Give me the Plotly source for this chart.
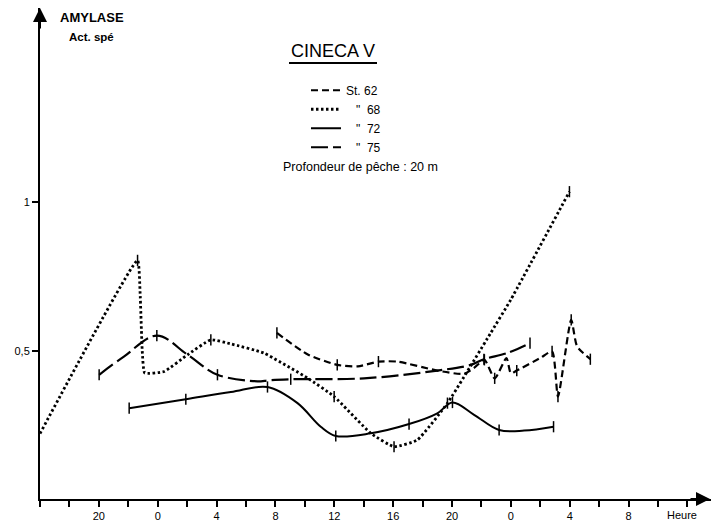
import plotly.graph_objects as go

# ---- data (time in hours from 0h of day 1; activity values) ----
t62 = [32.1, 34.2, 36.2, 37.6, 39.0, 40.3, 43.0, 44.8, 45.5, 46.2, 46.9, 47.7, 48.0, 48.4, 50.0, 50.8, 51.2, 52.1, 52.5, 53.4]
v62 = [0.562, 0.49, 0.455, 0.45, 0.466, 0.466, 0.436, 0.425, 0.445, 0.472, 0.41, 0.478, 0.427, 0.436, 0.478, 0.50, 0.349, 0.606, 0.517, 0.474]
k62 = [1, 0, 1, 0, 1, 0, 0, 0, 0, 1, 1, 0, 0, 1, 0, 1, 1, 1, 0, 1]

t68 = [16.0, 22.63, 22.8, 22.95, 23.12, 24.44, 26.03, 27.61, 29.0, 31.2, 34.18, 35.99, 38.48, 40.06, 41.65, 43.69, 46.63, 47.99, 51.98]
v68 = [0.225, 0.805, 0.70, 0.50, 0.428, 0.433, 0.489, 0.539, 0.525, 0.495, 0.411, 0.349, 0.226, 0.181, 0.204, 0.327, 0.562, 0.673, 1.035]
k68 = [0, 1, 0, 0, 0, 0, 0, 1, 0, 0, 0, 1, 0, 1, 0, 1, 0, 0, 1]

t72 = [22.06, 25.91, 28.97, 31.46, 33.5, 35.08, 36.1, 38.48, 41.08, 43.0, 44.03, 45.5, 47.2, 48.9, 50.9]
v72 = [0.31, 0.340, 0.364, 0.381, 0.327, 0.248, 0.217, 0.226, 0.257, 0.293, 0.329, 0.288, 0.237, 0.235, 0.248]
k72 = [1, 1, 0, 1, 0, 0, 1, 0, 1, 0, 1, 0, 1, 0, 1]

t75 = [20.02, 21.7, 23.94, 26.03, 28.06, 31.0, 31.46, 33.04, 38.02, 43.0, 45.27, 46.17, 47.76, 49.3]
v75 = [0.422, 0.483, 0.553, 0.489, 0.422, 0.40, 0.403, 0.407, 0.41, 0.436, 0.455, 0.474, 0.495, 0.528]
k75 = [1, 0, 1, 0, 1, 0, 0, 1, 0, 0, 0, 1, 0, 1]

x_tickvals = [20, 24, 28, 32, 36, 40, 44, 48, 52, 56]
x_ticktext = ["20", "0", "4", "8", "12", "16", "20", "0", "4", "8"]
y_tickvals = [0.5, 1.0]
y_ticktext = ["0,5", "1"]

names = ["St. 62", "\u00a0\u00a0\u00a0\"\u00a0\u00a068", "\u00a0\u00a0\u00a0\"\u00a0\u00a072", "\u00a0\u00a0\u00a0\"\u00a0\u00a075"]

FONT = "Liberation Sans, Arial, sans-serif"
series = [
    (t62, v62, k62, dict(color="black", width=2.2, dash="7px,4px"), 0.6),
    (t68, v68, k68, dict(color="black", width=2.8, dash="2.5px,2.5px"), 0.4),
    (t72, v72, k72, dict(color="black", width=2.0, dash="solid"), 1.0),
    (t75, v75, k75, dict(color="black", width=2.2, dash="17px,5px"), 1.0),
]

fig = go.Figure()
for (t, v, k, ln, sm), nm in zip(series, names):
    fig.add_trace(go.Scatter(x=t, y=v, mode="lines", name=nm,
                             line=dict(shape="spline", smoothing=sm, **ln)))
for (t, v, k, ln, sm) in series:
    tx = [a for a, f in zip(t, k) if f]
    vy = [b for b, f in zip(v, k) if f]
    fig.add_trace(go.Scatter(x=tx, y=vy, mode="markers", showlegend=False,
                             marker=dict(symbol="line-ns", size=8,
                                         line=dict(color="black", width=1.5))))

fig.update_layout(
    width=711, height=522,
    margin=dict(l=40, r=0, t=8, b=23),
    paper_bgcolor="white", plot_bgcolor="white",
    font=dict(family=FONT, color="black", size=11),
    legend=dict(x=0.3964, y=0.862, xanchor="left", yanchor="top",
                bgcolor="rgba(0,0,0,0)", font=dict(size=12, family=FONT),
                tracegroupgap=0),
    xaxis=dict(range=[16, 61.6], showgrid=False, zeroline=False,
               showline=True, linecolor="black", linewidth=2,
               tickvals=x_tickvals, ticktext=x_ticktext,
               ticks="outside", ticklen=6, tickwidth=1.5, tickcolor="black",
               minor=dict(dtick=2, tick0=0, ticks="outside", ticklen=6,
                          tickwidth=1.5, tickcolor="black"),
               tickfont=dict(size=11, family=FONT)),
    yaxis=dict(range=[0.006, 1.65], showgrid=False, zeroline=False,
               showline=True, linecolor="black", linewidth=2,
               tickvals=y_tickvals, ticktext=y_ticktext,
               ticks="outside", ticklen=6, tickwidth=1.5, tickcolor="black",
               tickfont=dict(size=11, family=FONT)),
    showlegend=True,
)


def px(xp, yp):
    return (xp - 40) / 671, (499 - yp) / 491


def label(xp, yp, text, size, **kw):
    x, y = px(xp, yp)
    return dict(x=x, y=y, xref="paper", yref="paper", text=text, showarrow=False,
                xanchor="center", yanchor="middle",
                font=dict(size=size, family=FONT), **kw)


ann = [
    # axis arrows
    dict(x=0, y=1, xref="paper", yref="paper", ax=0, ay=22, text="",
         showarrow=True, arrowhead=2, arrowsize=1.4, arrowwidth=2, arrowcolor="black"),
    dict(x=1, y=0, xref="paper", yref="paper", ax=-22, ay=0, text="",
         showarrow=True, arrowhead=2, arrowsize=1.4, arrowwidth=2, arrowcolor="black"),
    label(92, 18, "<b>AMYLASE</b>", 13),
    label(91, 37, "<b>Act. spé</b>", 11.5),
    label(333, 51, "CINECA V", 18),
    label(360, 167, "Profondeur de pêche : 20 m", 12.5),
    label(682, 515, "Heure", 11),
]
fig.update_layout(annotations=ann)

# underline of the title
ux0, uy = px(289, 63)
ux1, _ = px(377, 63)
fig.add_shape(type="line", xref="paper", yref="paper", x0=ux0, x1=ux1, y0=uy, y1=uy,
              line=dict(color="black", width=2))

fig.write_html("out.html")
